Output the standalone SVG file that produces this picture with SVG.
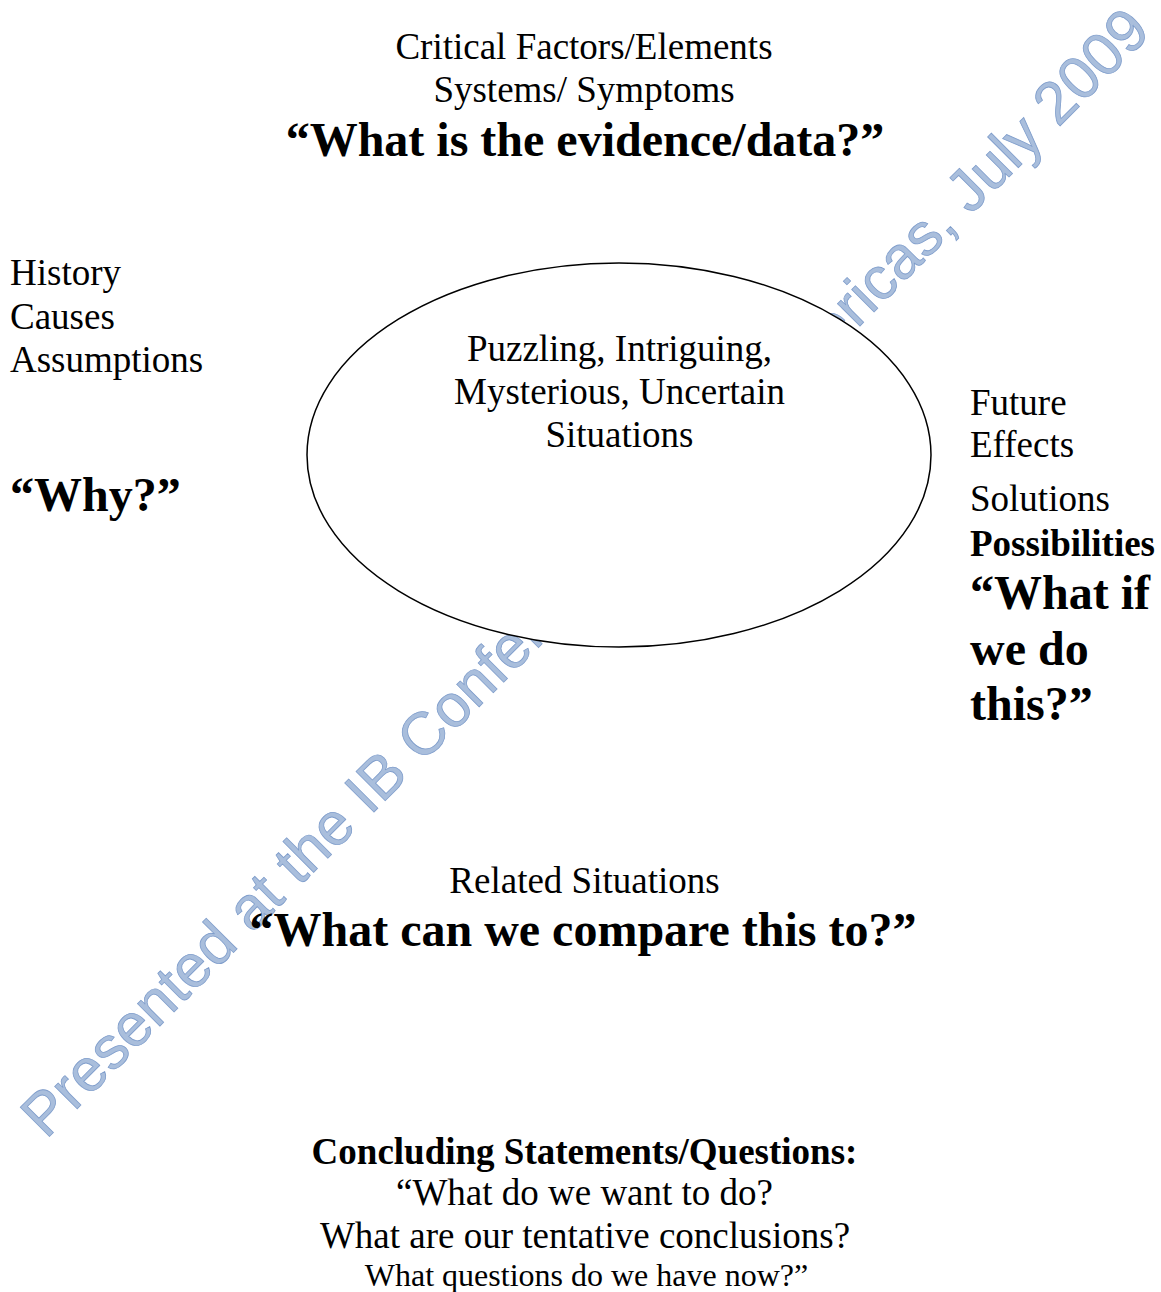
<svg xmlns="http://www.w3.org/2000/svg" width="1161" height="1292" viewBox="0 0 1161 1292">
  <style>
    .t { font-family: "Liberation Serif", "Times New Roman", serif; fill: #000; }
    .r37 { font-size: 37px; }
    .b37 { font-size: 37px; font-weight: bold; }
    .b48 { font-size: 48px; font-weight: bold; }
    .r32 { font-size: 32px; }
    .mid { text-anchor: middle; }
    .wm { font-family: "Liberation Sans", Arial, sans-serif; font-size: 60px; fill: #a9bedc; stroke: #7f9dcb; stroke-width: 0.8; }
  </style>
  <rect x="0" y="0" width="1161" height="1292" fill="#ffffff"/>

  <g id="watermark">
    <text class="wm" x="0" y="0" transform="translate(46,1140) rotate(-45)" textLength="1565" lengthAdjust="spacing">Presented at the IB Conference of the Americas, July 2009</text>
  </g>

  <g id="connectors"></g>

  <g id="center-node">
    <ellipse cx="619" cy="455" rx="312" ry="192" fill="#ffffff" stroke="#000000" stroke-width="1.5"/>
    <text class="t r37 mid" x="619.5" y="361">Puzzling, Intriguing,</text>
    <text class="t r37 mid" x="619.5" y="404">Mysterious, Uncertain</text>
    <text class="t r37 mid" x="619.5" y="447">Situations</text>
  </g>

  <g id="top-node">
    <text class="t r37 mid" x="584" y="59">Critical Factors/Elements</text>
    <text class="t r37 mid" x="584" y="102">Systems/ Symptoms</text>
    <text class="t b48 mid" x="585" y="156">“What is the evidence/data?”</text>
  </g>

  <g id="left-node">
    <text class="t r37" x="10" y="285">History</text>
    <text class="t r37" x="10" y="329">Causes</text>
    <text class="t r37" x="10" y="372">Assumptions</text>
    <text class="t b48" x="10" y="511">“Why?”</text>
  </g>

  <g id="right-node">
    <text class="t r37" x="970" y="415">Future</text>
    <text class="t r37" x="970" y="457">Effects</text>
    <text class="t r37" x="970" y="511">Solutions</text>
    <text class="t b37" x="970" y="556">Possibilities</text>
    <text class="t b48" x="970" y="609">“What if</text>
    <text class="t b48" x="970" y="665">we do</text>
    <text class="t b48" x="970" y="720">this?”</text>
  </g>

  <g id="bottom-node">
    <text class="t r37 mid" x="584.5" y="893">Related Situations</text>
    <text class="t b48 mid" x="583" y="946">“What can we compare this to?”</text>
  </g>

  <g id="conclusion-node">
    <text class="t b37 mid" x="584.5" y="1164">Concluding Statements/Questions:</text>
    <text class="t r37 mid" x="584.5" y="1205">“What do we want to do?</text>
    <text class="t r37 mid" x="585" y="1248">What are our tentative conclusions?</text>
    <text class="t r32 mid" x="586.5" y="1286">What questions do we have now?”</text>
  </g>
</svg>
